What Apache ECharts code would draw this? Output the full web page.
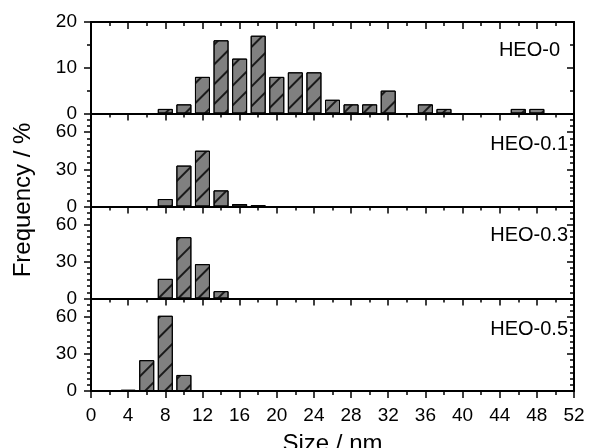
<!DOCTYPE html>
<html>
<head>
<meta charset="utf-8">
<script src="https://cdn.jsdelivr.net/npm/echarts@6/dist/echarts.min.js"></script>
<style>
  html, body { margin: 0; padding: 0; background: #fff; }
  #main { width: 590px; height: 448px; }
</style>
</head>
<body>
<div id="main"></div>
<script>
// size bins (nm) and frequency (%) per sample
const heo0Size = [8, 10, 12, 14, 16, 18, 20, 22, 24, 26, 28, 30, 32, 36, 38, 46, 48];
const heo0Freq = [1, 2, 8, 16, 12, 17, 8, 9, 9, 3, 2, 2, 5, 2, 1, 1, 1];
const heo01Size = [8, 10, 12, 14, 16, 18];
const heo01Freq = [6, 33, 45, 13, 2, 1];
const heo03Size = [8, 10, 12, 14];
const heo03Freq = [16, 50, 28, 6];
const heo05Size = [4, 6, 8, 10];
const heo05Freq = [1, 25, 61, 13];
const panelNames = ['HEO-0', 'HEO-0.1', 'HEO-0.3', 'HEO-0.5'];
const xTicks = [0, 52, 4];

var chartDom = document.getElementById('main');
var myChart = echarts.init(chartDom, null, { renderer: 'canvas' });

const FONT = 'Liberation Sans';
const panels = [
  { size: heo0Size, freq: heo0Freq, max: 20, major: 10, top: 22, height: 91.5 },
  { size: heo01Size, freq: heo01Freq, max: 75, major: 30, top: 113.5, height: 93 },
  { size: heo03Size, freq: heo03Freq, max: 75, major: 30, top: 206.5, height: 92 },
  { size: heo05Size, freq: heo05Freq, max: 75, major: 30, top: 298.5, height: 92.5 },
];
const labelPos = [[560, 50.5], [568, 144], [568, 235.5], [568, 329]];

const line = { show: true, onZero: false, lineStyle: { color: '#000', width: 2 } };
const noLine = { show: false, onZero: false };

const grid = [];
const xAxis = [];
const yAxis = [];
const series = [];

panels.forEach((p, i) => {
  grid.push({ left: 91, right: 16, top: p.top, height: p.height, outerBoundsMode: 'none' });
  const last = i === panels.length - 1;
  xAxis.push({
    type: 'value', gridIndex: i, position: 'bottom', min: xTicks[0], max: xTicks[1], interval: xTicks[2],
    axisLine: line,
    axisTick: { show: true, inside: false, length: 7, lineStyle: { color: '#000', width: 1.5 } },
    minorTick: { show: true, splitNumber: 2, length: 4, lineStyle: { color: '#000', width: 1.5 } },
    splitLine: { show: false },
    axisLabel: { show: last, margin: 15, color: '#000', fontSize: 19, fontFamily: FONT },
    name: last ? 'Size / nm' : '',
    nameLocation: 'middle', nameGap: 41,
    nameTextStyle: { color: '#000', fontSize: 24, fontFamily: FONT },
  });
  const yBase = yAxis.length;
  // left main axis with labels
  yAxis.push({
    type: 'value', gridIndex: i, min: 0, max: p.max, interval: p.major, position: 'left',
    axisLine: line,
    axisTick: { show: true, inside: false, length: 7, lineStyle: { color: '#000', width: 1.5 } },
    splitLine: { show: false },
    axisLabel: {
      margin: 14, color: '#000', fontSize: 19, fontFamily: FONT,
      formatter: v => (v % p.major === 0 ? String(v) : ''),
    },
  });
  // left minor ticks
  yAxis.push({
    type: 'value', gridIndex: i, min: 0, max: p.max, interval: 5, position: 'left',
    axisLine: noLine,
    axisTick: { show: true, inside: false, length: 4, lineStyle: { color: '#000', width: 1.5 } },
    splitLine: { show: false }, axisLabel: { show: false },
  });
  // right frame with inward ticks
  yAxis.push({
    type: 'value', gridIndex: i, min: 0, max: p.max, interval: p.major, position: 'right',
    axisLine: line,
    axisTick: { show: true, inside: true, length: 7, lineStyle: { color: '#000', width: 1.5 } },
    splitLine: { show: false }, axisLabel: { show: false },
  });
  yAxis.push({
    type: 'value', gridIndex: i, min: 0, max: p.max, interval: 5, position: 'right',
    axisLine: noLine,
    axisTick: { show: true, inside: true, length: 4, lineStyle: { color: '#000', width: 1.5 } },
    splitLine: { show: false }, axisLabel: { show: false },
  });
  series.push({
    type: 'bar', xAxisIndex: i, yAxisIndex: yBase,
    data: p.size.map((s, k) => [s, p.freq[k]]),
    barWidth: 15,
    itemStyle: {
      color: '#808080', borderColor: '#000', borderWidth: 1,
      decal: {
        symbol: 'rect', symbolSize: 1, color: '#1a1a1a',
        dashArrayX: [1, 0], dashArrayY: [1.3, 12], rotation: -Math.PI / 4,
      },
    },
    silent: true,
  });
});

// top frame of first panel
xAxis.push({
  type: 'value', gridIndex: 0, position: 'top', min: xTicks[0], max: xTicks[1], interval: xTicks[2],
  axisLine: line,
  axisTick: { show: true, inside: true, length: 7, lineStyle: { color: '#000', width: 1.5 } },
  minorTick: { show: true, splitNumber: 2, length: 4, lineStyle: { color: '#000', width: 1.5 } },
  splitLine: { show: false }, axisLabel: { show: false },
});

const graphic = panelNames.map((t, i) => ({
  type: 'text', x: labelPos[i][0], y: labelPos[i][1],
  style: { text: t, fill: '#000', font: '20px "Liberation Sans"', align: 'right', verticalAlign: 'middle' },
}));
graphic.push({
  type: 'text', x: 23, y: 200, rotation: Math.PI / 2,
  style: { text: 'Frequency / %', fill: '#000', font: '24px "Liberation Sans"', align: 'center', verticalAlign: 'middle' },
});

option = {
  animation: false,
  backgroundColor: '#fff',
  grid: grid,
  xAxis: xAxis,
  yAxis: yAxis,
  series: series,
  graphic: graphic,
};

option && myChart.setOption(option);
</script>
</body>
</html>
